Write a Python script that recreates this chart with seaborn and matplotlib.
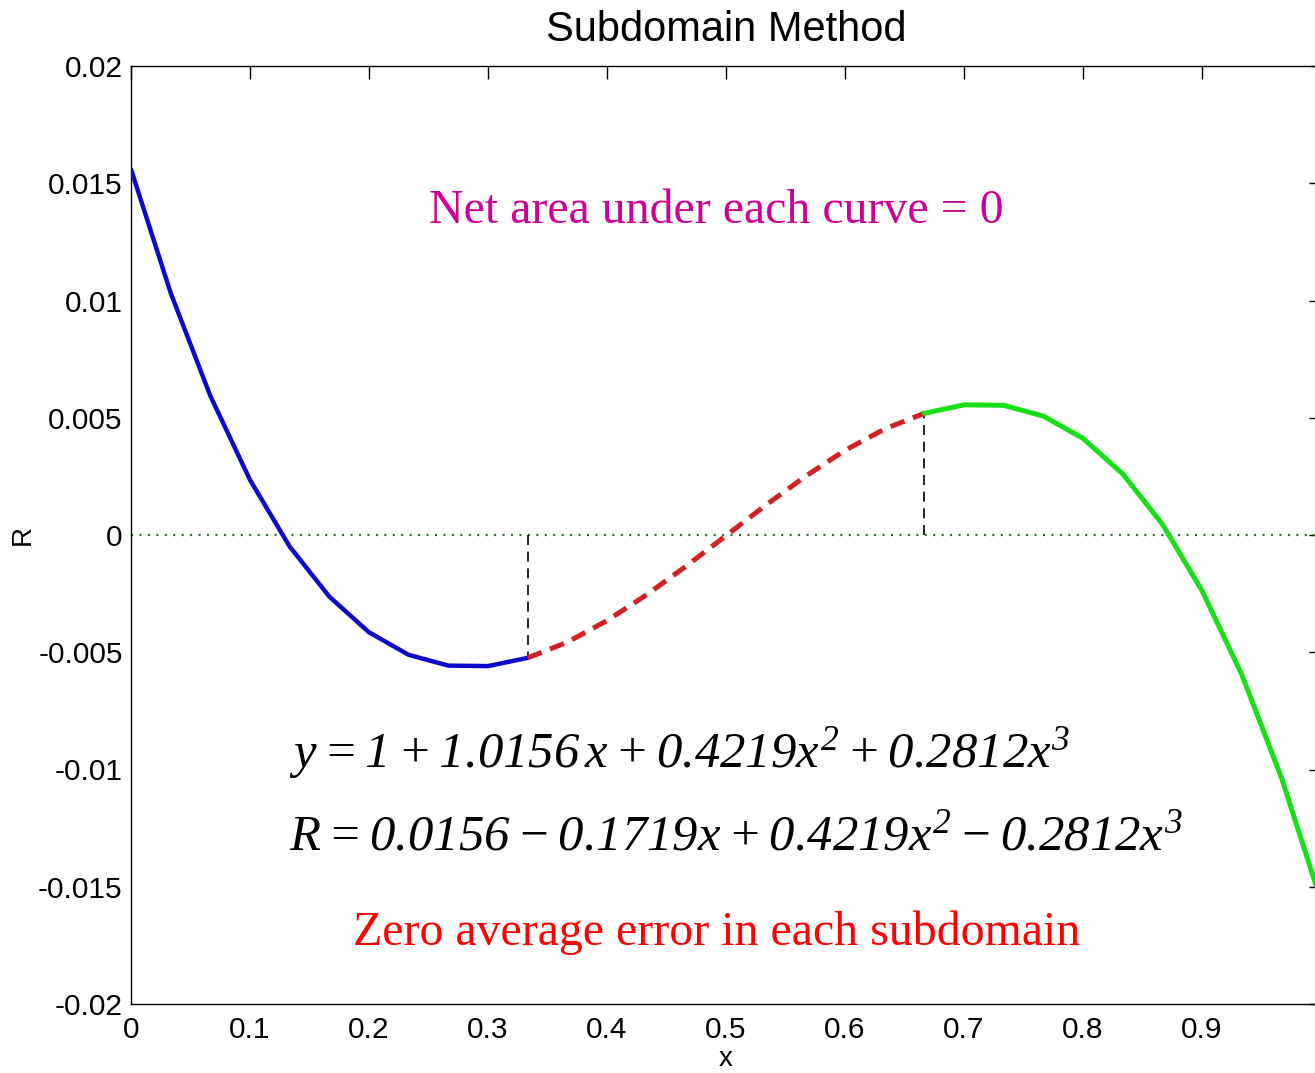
import matplotlib
matplotlib.use("Agg")
import matplotlib.pyplot as plt
import seaborn as sns
import pandas as pd

# ---- data ----
x_blue = [0.0, 0.0333, 0.0667, 0.1, 0.1333, 0.1667, 0.2, 0.2333, 0.2667, 0.3, 0.3333]
r_blue = [0.0156, 0.01033, 0.00593, 0.00235, -0.00049, -0.00263, -0.00415, -0.00511, -0.00557, -0.00559, -0.00524]

x_red = [0.3333, 0.3667, 0.4, 0.4333, 0.4667, 0.5, 0.5333, 0.5667, 0.6, 0.6333, 0.6667]
r_red = [-0.00524, -0.00457, -0.00365, -0.00255, -0.00132, -0.00003, 0.00127, 0.0025, 0.00361, 0.00452, 0.00519]

x_green = [0.6667, 0.7, 0.7333, 0.7667, 0.8, 0.8333, 0.8667, 0.9, 0.9333, 0.9667, 1.0]
r_green = [0.00519, 0.00555, 0.00553, 0.00507, 0.00412, 0.00261, 0.00046, -0.00237, -0.00594, -0.01034, -0.0156]

x_ticks = [0, 0.1, 0.2, 0.3, 0.4, 0.5, 0.6, 0.7, 0.8, 0.9, 1.0]
x_ticklabels = ["0", "0.1", "0.2", "0.3", "0.4", "0.5", "0.6", "0.7", "0.8", "0.9", ""]
y_ticks = [-0.02, -0.015, -0.01, -0.005, 0, 0.005, 0.01, 0.015, 0.02]
y_ticklabels = ["-0.02", "-0.015", "-0.01", "-0.005", "0", "0.005", "0.01", "0.015", "0.02"]

title = "Subdomain Method"
note_top = "Net area under each curve = 0"
note_bottom = "Zero average error in each subdomain"
eq_y = r"$y = 1 + 1.0156\,x + 0.4219x^2 + 0.2812x^3$"
eq_r = r"$R = 0.0156 - 0.1719x + 0.4219x^2 - 0.2812x^3$"

# ---- style ----
sns.set_theme(style="white")
plt.rcParams["font.family"] = ["Liberation Sans", "DejaVu Sans"]
plt.rcParams["mathtext.fontset"] = "custom"
plt.rcParams["mathtext.it"] = "Liberation Serif:italic"
plt.rcParams["mathtext.rm"] = "Liberation Serif:italic"
plt.rcParams["mathtext.bf"] = "Liberation Serif:italic:bold"
plt.rcParams["text.color"] = "black"
plt.rcParams["axes.labelcolor"] = "black"

W, H = 1315, 1073
fig = plt.figure(figsize=(W / 100, H / 100), dpi=100)
fig.patch.set_facecolor("white")
# x=0 at px 131, x=1 at px 1321 (beyond right edge: cropped like reference)
ax = fig.add_axes([131 / W, (H - 1004) / H, 1190 / W, 938 / H])
ax.set_facecolor("white")

df_b = pd.DataFrame({"x": x_blue, "R": r_blue})
df_r = pd.DataFrame({"x": x_red, "R": r_red})
df_g = pd.DataFrame({"x": x_green, "R": r_green})

# zero line
ax.axhline(0, color="#1F6F1F", lw=1.6, ls=(0, (0.9, 2.9)), zorder=1)

sns.lineplot(data=df_b, x="x", y="R", ax=ax, color="#0A0ACC", lw=3.2, sort=False, zorder=3)
sns.lineplot(data=df_r, x="x", y="R", ax=ax, color="#D42020", lw=3.6, sort=False,
             zorder=3, linestyle=(0, (3.0, 1.8)))
sns.lineplot(data=df_g, x="x", y="R", ax=ax, color="#18E018", lw=3.6, sort=False, zorder=3)

# subdomain boundaries (from data end points)
ax.vlines([x_blue[-1], x_red[-1]], [0, 0], [r_blue[-1], r_red[-1]],
          colors="black", lw=1.2, linestyles=(0, (6, 4)), zorder=2)

ax.set_xlim(0, 1)
ax.set_ylim(-0.02, 0.02)
ax.set_xticks(x_ticks)
ax.set_xticklabels(x_ticklabels)
ax.set_yticks(y_ticks)
ax.set_yticklabels(y_ticklabels)
ax.tick_params(axis="both", direction="in", length=9, width=1, colors="black",
               labelcolor="black", labelsize=21.5, top=True, right=True, pad=6)
ax.tick_params(axis="x", pad=9)
for sp in ax.spines.values():
    sp.set_color("black")
    sp.set_linewidth(1.0)

ax.set_xlabel("x", fontsize=20, labelpad=1)
ax.set_ylabel("R", fontsize=20, labelpad=2)
ax.set_title(title, fontsize=30, pad=18, color="black")

# annotations (placed in axes data coordinates)
ax.text(0.492, 0.0138, note_top, color="#CC0099", fontsize=34.5,
        family=["Liberation Serif"], ha="center", va="center")
ax.text(0.492, -0.01695, note_bottom, color="#FF0000", fontsize=34.5,
        family=["Liberation Serif"], ha="center", va="center")
ax.text(0.133, -0.0093, eq_y, color="black", fontsize=36.5, ha="left", va="center")
ax.text(0.133, -0.01285, eq_r, color="black", fontsize=36.5, ha="left", va="center")

fig.savefig("out.png", dpi=100, facecolor="white")
